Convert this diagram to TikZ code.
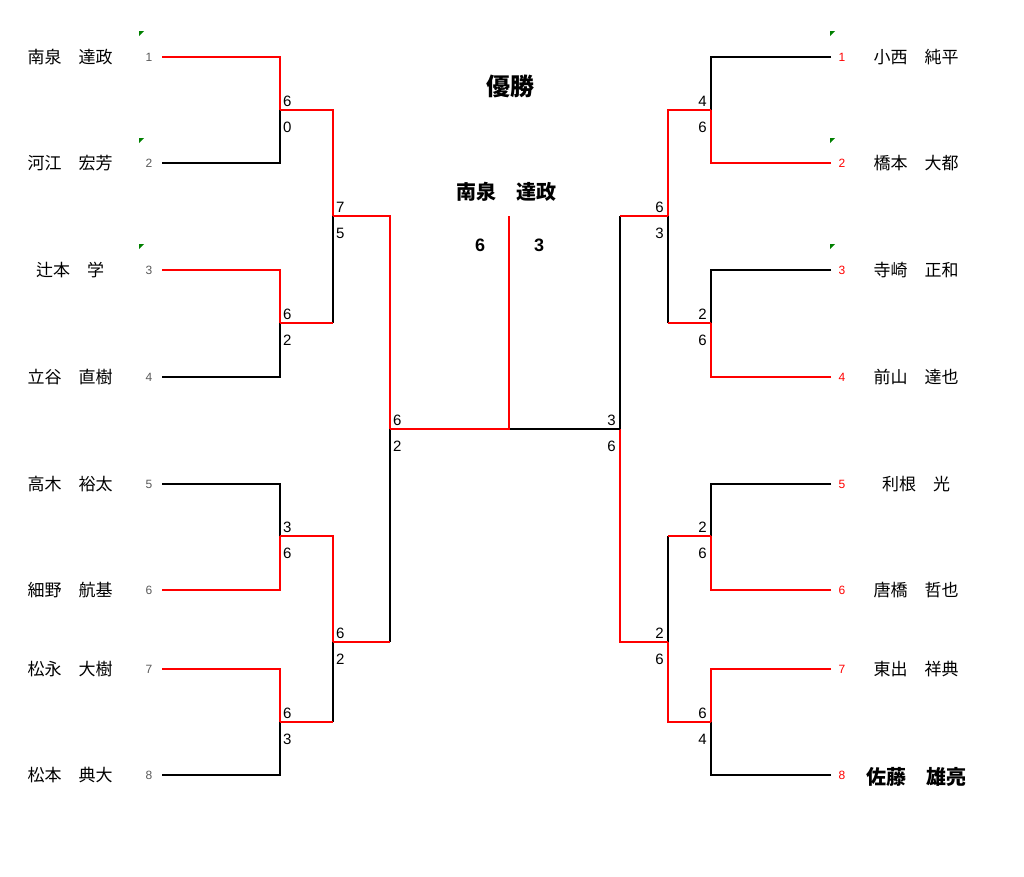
\documentclass[tikz,border=0pt]{standalone}
\usepackage{fontspec}
\setmainfont{Liberation Sans}
\newfontfamily\jp{Noto Sans CJK JP}
\usepackage{tikz}
\usetikzlibrary{calc}

\tikzset{
    win/.style={draw=red, line width=1.7pt},
    lose/.style={draw=black, line width=1.7pt},
    player/.style={font=\jp\fontsize{17}{19}\selectfont, inner sep=0pt},
    seed/.style={font=\fontsize{12}{13}\selectfont, text=black!65, inner sep=0pt},
    rseed/.style={font=\fontsize{12}{13}\selectfont, text=red, inner sep=0pt},
    score/.style={font=\fontsize{15}{17}\selectfont, inner sep=0pt},
    notemark/.style={fill=green!50!black},
}

\begin{document}
\begin{tikzpicture}[x=1pt, y=-1pt]
    \useasboundingbox (0,0) rectangle (1024,876);

    % left side players
    \node[player] (ln1) at (70,57) {南泉　達政};
    \node[player] (ln2) at (70,163) {河江　宏芳};
    \node[player] (ln3) at (70,270) {辻本　学};
    \node[player] (ln4) at (70,377) {立谷　直樹};
    \node[player] (ln5) at (70,484) {高木　裕太};
    \node[player] (ln6) at (70,590) {細野　航基};
    \node[player] (ln7) at (70,669) {松永　大樹};
    \node[player] (ln8) at (70,775) {松本　典大};

    % right side players
    \node[player] (rn1) at (916,57) {小西　純平};
    \node[player] (rn2) at (916,163) {橋本　大都};
    \node[player] (rn3) at (916,270) {寺崎　正和};
    \node[player] (rn4) at (916,377) {前山　達也};
    \node[player] (rn5) at (916,484) {利根　光};
    \node[player] (rn6) at (916,590) {唐橋　哲也};
    \node[player] (rn7) at (916,669) {東出　祥典};
    \node[player, font=\jp\bfseries\fontsize{20}{22}\selectfont] (rn8) at (916,777) {佐藤　雄亮};

    % seeds
    \foreach \i/\y in {1/57, 2/163, 3/270, 4/377, 5/484, 6/590, 7/669, 8/775} {
        \node[seed] (ls\i) at (149,\y) {\i};
        \node[rseed] (rs\i) at (842,\y) {\i};
        \coordinate (l\i) at (162,\y);
        \coordinate (r\i) at (831,\y);
    }

    % comment marks
    \foreach \y in {31, 138, 244} {
        \fill[notemark] (139,\y) -- (144,\y) -- (139,\y+5) -- cycle;
        \fill[notemark] (830,\y) -- (835,\y) -- (830,\y+5) -- cycle;
    }

    % junctions
    \coordinate (a1) at (280,110);
    \coordinate (a2) at (280,323);
    \coordinate (a3) at (280,536);
    \coordinate (a4) at (280,722);
    \coordinate (b1) at (333,216);
    \coordinate (b2) at (333,642);
    \coordinate (c) at (390,429);
    \coordinate (A1) at (711,110);
    \coordinate (A2) at (711,323);
    \coordinate (A3) at (711,536);
    \coordinate (A4) at (711,722);
    \coordinate (B1) at (668,216);
    \coordinate (B2) at (668,642);
    \coordinate (C) at (620,429);
    \coordinate (m) at (509,429);
    \coordinate (mt) at (509,216);

    % left round 1
    \draw[lose] (l2) -| (a1);
    \draw[win] (l1) -| (a1);
    \draw[lose] (l4) -| (a2);
    \draw[win] (l3) -| (a2);
    \draw[lose] (l5) -| (a3);
    \draw[win] (l6) -| (a3);
    \draw[lose] (l8) -| (a4);
    \draw[win] (l7) -| (a4);
    % left round 2 and 3
    \draw[lose] (a2 -| b1) -- (b1);
    \draw[win] (a2) -- (a2 -| b1);
    \draw[win] (a1) -| (b1);
    \draw[lose] (a4 -| b2) -- (b2);
    \draw[win] (a4) -- (a4 -| b2);
    \draw[win] (a3) -| (b2);
    \draw[lose] (b2 -| c) -- (c);
    \draw[win] (b2) -- (b2 -| c);
    \draw[win] (b1) -| (c);

    % right round 1
    \draw[lose] (r1) -| (A1);
    \draw[win] (r2) -| (A1);
    \draw[lose] (r3) -| (A2);
    \draw[win] (r4) -| (A2);
    \draw[lose] (r5) -| (A3);
    \draw[win] (r6) -| (A3);
    \draw[lose] (r8) -| (A4);
    \draw[win] (r7) -| (A4);
    % right round 2 and 3
    \draw[lose] (A2 -| B1) -- (B1);
    \draw[win] (A2) -- (A2 -| B1);
    \draw[win] (A1) -| (B1);
    \draw[lose] (A3 -| B2) -- (B2);
    \draw[win] (A3) -- (A3 -| B2);
    \draw[win] (A4) -| (B2);
    \draw[lose] (B1 -| C) -- (C);
    \draw[win] (B1) -- (B1 -| C);
    \draw[win] (B2) -| (C);

    % final
    \draw[lose] (C) -- (m);
    \draw[win] (c) -- (m) -- (mt);

    % scores left
    \foreach \j/\up/\dn in {a1/6/0, a2/6/2, a3/3/6, a4/6/3, b1/7/5, b2/6/2, c/6/2} {
        \node[score, anchor=base west] at ($(\j)+(3,-4)$) {\up};
        \node[score, anchor=base west] at ($(\j)+(3,22)$) {\dn};
    }
    % scores right
    \foreach \j/\up/\dn in {A1/4/6, A2/2/6, A3/2/6, A4/6/4, B1/6/3, B2/2/6, C/3/6} {
        \node[score, anchor=base east] at ($(\j)+(-4,-4)$) {\up};
        \node[score, anchor=base east] at ($(\j)+(-4,22)$) {\dn};
    }

    % champion
    \node[font=\jp\bfseries\fontsize{24}{26}\selectfont] (title) at (510,86) {優勝};
    \node[font=\jp\bfseries\fontsize{20}{22}\selectfont] (champ) at (506,192) {南泉　達政};
    \node[font=\bfseries\fontsize{18}{20}\selectfont] (fs1) at (480,245) {6};
    \node[font=\bfseries\fontsize{18}{20}\selectfont] (fs2) at (539,245) {3};
\end{tikzpicture}
\end{document}
